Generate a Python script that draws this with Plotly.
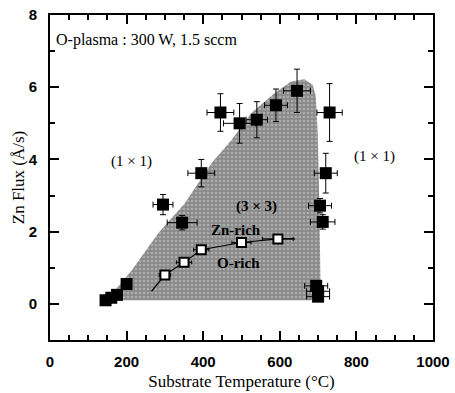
import plotly.graph_objects as go

# Shaded (3x3) reconstruction region boundary
region_T = [150, 214, 283, 352, 422, 474, 525, 586, 629, 664, 686, 694, 699, 703, 707, 150]
region_F = [0.12, 0.94, 1.96, 2.79, 3.9, 4.54, 5.28, 5.83, 6.16, 6.22, 6.07, 5.74, 4.73, 2.88, 0.1, 0.1]

# Filled squares: (1x1)/(3x3) transition
filled_T = [145, 160, 175, 200, 295, 345, 395, 445, 495, 540, 590, 645, 730, 720, 705, 712, 695, 700, 700]
filled_F = [0.1, 0.17, 0.25, 0.55, 2.75, 2.25, 3.62, 5.3, 5.0, 5.1, 5.5, 5.9, 5.3, 3.62, 2.72, 2.27, 0.5, 0.35, 0.2]
filled_dT = [0, 0, 0, 0, 26, 39, 35, 35, 42, 28, 30, 35, 33, 30, 30, 32, 30, 30, 30]
filled_dF = [0, 0, 0, 0, 0.28, 0.2, 0.38, 0.52, 0.55, 0.5, 0.45, 0.6, 0.8, 0.55, 0.2, 0.2, 0, 0, 0]

# Open squares: Zn-rich / O-rich boundary
open_T = [300, 350, 395, 500, 595]
open_F = [0.8, 1.15, 1.5, 1.7, 1.8]
open_dT = [15, 20, 20, 25, 40]

# Zn-rich / O-rich dividing line
line_T = [265, 300, 350, 395, 500, 595, 640]
line_F = [0.35, 0.8, 1.15, 1.5, 1.7, 1.8, 1.8]

x_ticks = [0, 200, 400, 600, 800, 1000]
y_ticks = [0, 2, 4, 6, 8]

fig = go.Figure()

fig.add_trace(go.Scatter(
    x=region_T, y=region_F, mode="lines", fill="toself",
    line=dict(width=0), fillcolor="#949494",
    fillpattern=dict(shape=".", bgcolor="#8a8a8a", fgcolor="#d0d0d0", size=4, solidity=0.35),
    hoverinfo="skip", showlegend=False))

fig.add_trace(go.Scatter(
    x=line_T, y=line_F, mode="lines",
    line=dict(color="black", width=1.2), showlegend=False))

fig.add_trace(go.Scatter(
    x=filled_T, y=filled_F, mode="markers",
    marker=dict(symbol="square", size=12, color="black"),
    error_x=dict(type="data", array=filled_dT, color="black", thickness=1, width=3),
    error_y=dict(type="data", array=filled_dF, color="black", thickness=1, width=3),
    showlegend=False))

fig.add_trace(go.Scatter(
    x=open_T, y=open_F, mode="markers",
    marker=dict(symbol="square", size=9, color="white", line=dict(color="black", width=2)),
    error_x=dict(type="data", array=open_dT, color="black", thickness=1, width=2),
    showlegend=False))

serif = "Liberation Serif"
ann = [
    dict(x=10, y=7.3, text="O-plasma : 300 W, 1.5 sccm", xanchor="left", font=dict(size=16)),
    dict(x=213, y=3.93, text="(1 × 1)", font=dict(size=15)),
    dict(x=847, y=4.07, text="(1 × 1)", font=dict(size=15)),
    dict(x=538, y=2.69, text="(3 × 3)", font=dict(size=15, weight="bold")),
    dict(x=486, y=2.05, text="Zn-rich", font=dict(size=15, weight="bold")),
    dict(x=491, y=1.13, text="O-rich", font=dict(size=15, weight="bold")),
]
for a in ann:
    a["font"]["family"] = serif
    a["font"]["color"] = "black"
    fig.add_annotation(xref="x", yref="y", showarrow=False, **a)

axis_common = dict(
    showline=True, linecolor="black", linewidth=2, mirror="ticks",
    ticks="inside", ticklen=9, tickwidth=1.5, tickcolor="black",
    showgrid=False, zeroline=False, automargin=False,
    tickfont=dict(family="Liberation Sans", size=15, color="black", weight="bold"),
    title_font=dict(family=serif, size=17, color="black"),
)

fig.update_xaxes(range=[0, 1000], tickvals=x_ticks, ticklabelstandoff=7,
                 minor=dict(dtick=50, ticks="inside", ticklen=5, tickcolor="black", tickwidth=1.5),
                 title_text="Substrate Temperature (°C)", title_standoff=6, **axis_common)
fig.update_yaxes(range=[-1, 8], tickvals=y_ticks, ticklabelstandoff=8,
                 minor=dict(dtick=1, ticks="inside", ticklen=5, tickcolor="black", tickwidth=1.5),
                 title_text="Zn Flux (Å/s)", title_standoff=0, **axis_common)

fig.update_layout(width=455, height=393,
                  margin=dict(l=50, r=22, t=15, b=53),
                  plot_bgcolor="white", paper_bgcolor="white")

fig.write_html("out.html", config={"displayModeBar": False},
               post_script="document.body.style.margin='0';document.body.style.overflow='hidden';")
